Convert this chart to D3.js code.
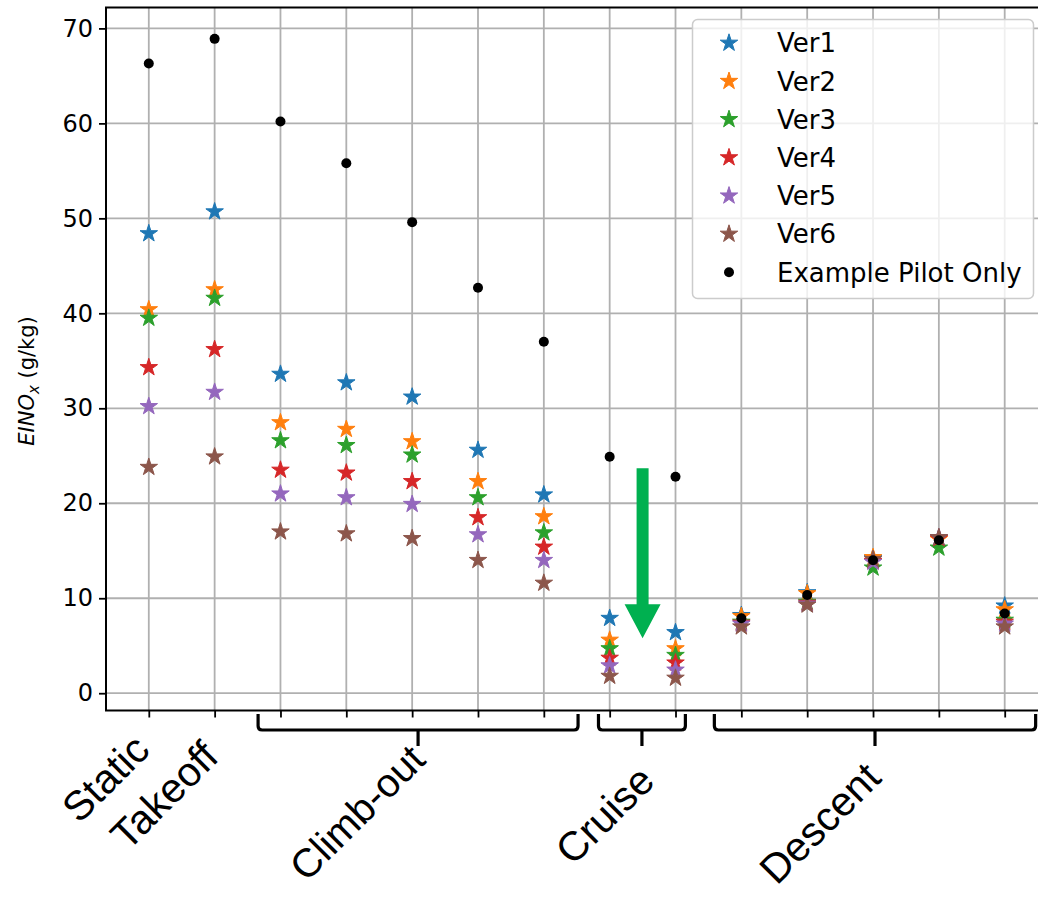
<!DOCTYPE html>
<html>
<head>
<meta charset="utf-8">
<script src="https://cdn.jsdelivr.net/npm/d3@7"></script>
<style>
  html, body { margin: 0; padding: 0; background: #fff; }
  svg { display: block; }
</style>
</head>
<body>
<div id="chart"></div>
<script>
// ---------------- DATA ----------------
const categories = ["Static", "Takeoff", "Climb-out 1", "Climb-out 2", "Climb-out 3", "Climb-out 4", "Climb-out 5",
                    "Cruise 1", "Cruise 2", "Descent 1", "Descent 2", "Descent 3", "Descent 4", "Descent 5"];
const seriesNames = ["Ver1", "Ver2", "Ver3", "Ver4", "Ver5", "Ver6"];
const ver1 = [48.4, 50.7, 33.6, 32.7, 31.2, 25.6, 20.9, 7.9, 6.4, 8.2, 10.6, 14.2, 16.3, 9.2];
const ver2 = [40.4, 42.5, 28.5, 27.8, 26.5, 22.3, 18.6, 5.6, 4.7, 8.1, 10.5, 14.3, 16.2, 8.8];
const ver3 = [39.5, 41.6, 26.6, 26.1, 25.1, 20.6, 16.9, 4.7, 4.0, 7.5, 9.6, 13.2, 15.3, 7.7];
const ver4 = [34.3, 36.2, 23.5, 23.2, 22.3, 18.5, 15.4, 3.7, 3.2, 7.4, 9.5, 13.9, 16.3, 7.5];
const ver5 = [30.2, 31.7, 21.0, 20.6, 19.9, 16.7, 14.0, 2.9, 2.45, 7.3, 9.4, 13.8, 16.4, 7.3];
const ver6 = [23.8, 24.9, 17.0, 16.8, 16.3, 14.0, 11.6, 1.8, 1.6, 7.0, 9.3, 14.1, 16.4, 7.0];
const pilot = [66.3, 68.9, 60.2, 55.8, 49.6, 42.7, 37.0, 24.9, 22.8, 7.9, 10.35, 14.0, 16.1, 8.4];
const pilotName = "Example Pilot Only";
const yTicks = [0, 10, 20, 30, 40, 50, 60, 70];
// phase labels (x in category index units) and brackets spanning groups
const phaseLabels = ["Static", "Takeoff", "Climb-out", "Cruise", "Descent"];
const phaseCenters = [0, 1, 4.05, 7.5, 11.03];
const bracketStart = [null, null, 1.66, 6.83, 8.59];
const bracketEnd = [null, null, 6.52, 8.15, 13.47];
// green arrow (x, y-top, y-tip)
const arrowX = 7.5, arrowTop = 23.7, arrowTip = 5.8;

const colors = ["#1f77b4", "#ff7f0e", "#2ca02c", "#d62728", "#9467bd", "#8c564b"];
const allSeries = [ver1, ver2, ver3, ver4, ver5, ver6];

// ---------------- LAYOUT ----------------
const W = 1038, H = 897;
const plot = { left: 106, top: 7.5, bottom: 710.5, right: 1047.5 };

const svg = d3.select("#chart").append("svg").attr("width", W).attr("height", H)
  .style("font-family", "'DejaVu Sans', sans-serif");

const x = d3.scaleLinear().domain([-0.65, 13.65]).range([plot.left, plot.right]);
const y = d3.scaleLinear().domain([-1.82, 72.2]).range([plot.bottom, plot.top]);

// grid
const grid = svg.append("g");
grid.selectAll("line.v").data(categories).enter().append("line")
  .attr("x1", (d, i) => x(i)).attr("x2", (d, i) => x(i))
  .attr("y1", plot.top).attr("y2", plot.bottom)
  .attr("stroke", "#b0b0b0").attr("stroke-width", 1.8);
grid.selectAll("line.h").data(yTicks).enter().append("line")
  .attr("x1", plot.left).attr("x2", plot.right)
  .attr("y1", d => y(d)).attr("y2", d => y(d))
  .attr("stroke", "#b0b0b0").attr("stroke-width", 1.8);

// axes
const yAxis = d3.axisLeft(y).tickValues(yTicks).tickSize(7).tickPadding(6).tickFormat(d3.format("d"));
const gy = svg.append("g").attr("transform", `translate(${plot.left},0)`).call(yAxis);
gy.select(".domain").remove();
gy.selectAll(".tick line").attr("stroke", "#000").attr("stroke-width", 1.8);
gy.selectAll(".tick text").attr("font-size", 24).attr("fill", "#000")
  .attr("font-family", "'DejaVu Sans', sans-serif");

const xAxis = d3.axisBottom(x).tickValues(d3.range(categories.length)).tickSize(7).tickFormat("");
const gx = svg.append("g").attr("transform", `translate(0,${plot.bottom})`).call(xAxis);
gx.select(".domain").remove();
gx.selectAll(".tick line").attr("stroke", "#000").attr("stroke-width", 1.8);

// spines
svg.append("rect").attr("x", plot.left).attr("y", plot.top)
  .attr("width", plot.right - plot.left).attr("height", plot.bottom - plot.top)
  .attr("fill", "none").attr("stroke", "#000").attr("stroke-width", 2);

// y label
const yl = svg.append("text")
  .attr("transform", `translate(34,${(plot.top + plot.bottom) / 2 + 22}) rotate(-90)`)
  .attr("text-anchor", "middle").attr("font-size", 21).attr("fill", "#000");
yl.append("tspan").attr("font-style", "italic").text("EINO");
yl.append("tspan").attr("font-style", "italic").attr("font-size", 15).attr("dy", 5).text("x");
yl.append("tspan").attr("dy", -5).text(" (g/kg)");

// markers
const star = d3.symbol().type(d3.symbolStar).size(95);
const marks = svg.append("g");
allSeries.forEach((vals, s) => {
  marks.append("g").selectAll("path").data(vals).enter().append("path")
    .attr("d", star)
    .attr("transform", (d, i) => `translate(${x(i)},${y(d)})`)
    .attr("fill", colors[s]).attr("stroke", colors[s]).attr("stroke-width", 1)
    .attr("stroke-linejoin", "round");
});
marks.append("g").selectAll("circle").data(pilot).enter().append("circle")
  .attr("cx", (d, i) => x(i)).attr("cy", d => y(d)).attr("r", 5).attr("fill", "#000");

// green arrow
const ax = x(arrowX), aTop = y(arrowTop), aTip = y(arrowTip);
const headLen = 34, headHalf = 18, shaftHalf = 6;
svg.append("path")
  .attr("d", `M${ax - shaftHalf},${aTop} L${ax + shaftHalf},${aTop} L${ax + shaftHalf},${aTip - headLen}
              L${ax + headHalf},${aTip - headLen} L${ax},${aTip} L${ax - headHalf},${aTip - headLen}
              L${ax - shaftHalf},${aTip - headLen} Z`)
  .attr("fill", "#00b050");

// brackets
const bTop = 714, bMid = 730, bTipY = 746, rc = 4;
const br = svg.append("g").attr("fill", "none").attr("stroke", "#000").attr("stroke-width", 3.2)
  .attr("stroke-linecap", "butt");
phaseLabels.forEach((lab, i) => {
  if (bracketStart[i] === null) return;
  const x0 = x(bracketStart[i]), x1 = x(bracketEnd[i]), xc = (x0 + x1) / 2;
  br.append("path").attr("d",
    `M${x0},${bTop} L${x0},${bMid - rc} Q${x0},${bMid} ${x0 + rc},${bMid} L${x1 - rc},${bMid} Q${x1},${bMid} ${x1},${bMid - rc} L${x1},${bTop}`);
  br.append("line").attr("x1", xc).attr("x2", xc).attr("y1", bMid).attr("y2", bTipY);
});

// phase labels
const labelY = [752, 759, 762, 783, 780];
const labelDx = [3, 6, 12, 14, 8];
const labelSize = [41, 41, 40, 41, 41];
svg.append("g").selectAll("text").data(phaseLabels).enter().append("text")
  .attr("transform", (d, i) => `translate(${x(phaseCenters[i]) + labelDx[i]},${labelY[i]}) rotate(-45)`)
  .attr("text-anchor", "end")
  .attr("font-family", "'Liberation Sans', Arial, sans-serif")
  .attr("font-size", (d, i) => labelSize[i]).attr("fill", "#000")
  .text(d => d);

// legend
const lg = svg.append("g");
lg.append("rect").attr("x", 692.5).attr("y", 19.5).attr("width", 341).attr("height", 279)
  .attr("rx", 5).attr("fill", "rgba(255,255,255,0.8)").attr("stroke", "#cccccc").attr("stroke-width", 1.5);
const legendNames = seriesNames.concat([pilotName]);
const rowY = i => 43 + i * 38.2;
legendNames.forEach((name, i) => {
  if (i < 6) {
    lg.append("path").attr("d", star).attr("transform", `translate(729,${rowY(i)})`)
      .attr("fill", colors[i]).attr("stroke", colors[i]).attr("stroke-width", 1);
  } else {
    lg.append("circle").attr("cx", 729).attr("cy", rowY(i)).attr("r", 5).attr("fill", "#000");
  }
  lg.append("text").attr("x", 777).attr("y", rowY(i)).attr("dy", "0.36em")
    .attr("font-size", 26).attr("fill", "#000").text(name);
});
</script>
</body>
</html>
